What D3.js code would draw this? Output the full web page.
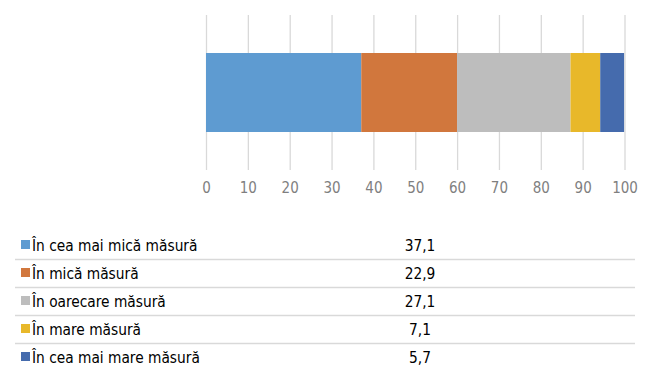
<!DOCTYPE html>
<html>
<head>
<meta charset="utf-8">
<script src="https://cdn.jsdelivr.net/npm/d3@7"></script>
<style>
  body { margin: 0; background: #fff; }
  svg { display: block; font-family: "DejaVu Sans Condensed", "Liberation Sans", sans-serif; }
</style>
</head>
<body>
<svg id="chart" width="650" height="387"></svg>
<script>
// categorii și valori (%)
const categories = [
  "În cea mai mică măsură",
  "În mică măsură",
  "În oarecare măsură",
  "În mare măsură",
  "În cea mai mare măsură"
];
const values = [37.1, 22.9, 27.1, 7.1, 5.7];
const valueLabels = ["37,1", "22,9", "27,1", "7,1", "5,7"];
const xTicks = [0, 10, 20, 30, 40, 50, 60, 70, 80, 90, 100];
const colors = ["#5E9BD1", "#D1773D", "#BDBDBD", "#E8B82A", "#456BAD"];

const svg = d3.select("#chart");

// scala x
const x = d3.scaleLinear().domain([0, 100]).range([206, 624.5]);

// scala y pentru bară (o singură categorie)
const y = d3.scaleBand().domain(["all"]).range([53, 132]);

// axa x cu linii de grilă
const xAxis = svg.append("g")
  .attr("transform", "translate(0,170)")
  .call(d3.axisBottom(x).tickValues(xTicks).tickSize(-155).tickPadding(12).tickFormat(d => d));

xAxis.select(".domain").remove();
xAxis.selectAll("line")
  .style("stroke", "#D9D9D9")
  .style("stroke-width", "1.3px");
xAxis.selectAll("text")
  .style("fill", "#7F7F7F")
  .style("font-size", "15px")
  .style("font-family", "'DejaVu Sans Condensed', sans-serif");

// date stivuite
const row = {};
categories.forEach((c, i) => { row[c] = values[i]; });
const stacked = d3.stack().keys(categories)([row]);

svg.append("g")
  .selectAll("rect")
  .data(stacked)
  .join("rect")
  .attr("x", d => x(d[0][0]))
  .attr("width", d => x(d[0][1]) - x(d[0][0]))
  .attr("y", y("all"))
  .attr("height", y.bandwidth())
  .attr("fill", (d, i) => colors[i]);

// tabelul de date
const rowY = d3.scaleBand().domain(d3.range(categories.length)).range([231, 371]);

const table = svg.append("g");

table.selectAll("line")
  .data(d3.range(1, categories.length))
  .join("line")
  .attr("x1", 15).attr("x2", 635)
  .attr("y1", i => rowY(i) + 0.5).attr("y2", i => rowY(i) + 0.5)
  .style("stroke", "#D9D9D9")
  .style("stroke-width", "1.5px");

const rows = table.selectAll("g.row")
  .data(categories)
  .join("g")
  .attr("class", "row")
  .attr("transform", (d, i) => `translate(0,${rowY(i) + rowY.bandwidth() / 2})`);

rows.append("rect")
  .attr("x", 21).attr("y", -5)
  .attr("width", 9).attr("height", 9)
  .attr("fill", (d, i) => colors[i]);

rows.append("text")
  .attr("x", 32).attr("y", 5.5)
  .style("font-size", "15.3px")
  .style("fill", "#000")
  .text(d => d);

rows.append("text")
  .attr("x", 420).attr("y", 5.5)
  .attr("text-anchor", "middle")
  .style("font-size", "15.3px")
  .style("fill", "#000")
  .text((d, i) => valueLabels[i]);
</script>
</body>
</html>
